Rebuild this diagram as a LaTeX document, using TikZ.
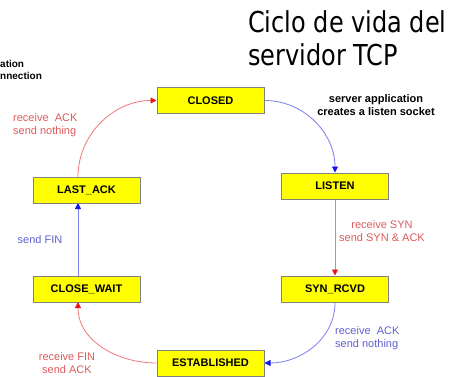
\documentclass[tikz,border=0pt]{standalone}
\usepackage{graphicx}
\usepackage{fontspec}
\setmainfont{Liberation Sans}
\newfontfamily\titlefont{DejaVu Sans}
\usetikzlibrary{arrows.meta,positioning,backgrounds}
\pgfdeclarelayer{edgelayer}
\pgfdeclarelayer{nodelayer}
\pgfsetlayers{background,edgelayer,nodelayer,main}
\definecolor{boxyellow}{RGB}{255,255,0}
\definecolor{boxgray}{RGB}{128,128,128}
\definecolor{lnblue}{RGB}{125,125,235}
\definecolor{tipblue}{RGB}{20,20,230}
\definecolor{lnred}{RGB}{240,120,120}
\definecolor{tipred}{RGB}{230,20,20}
\definecolor{txtred}{RGB}{220,90,90}
\definecolor{txtblue}{RGB}{95,95,205}
\newcommand{\tall}[1]{\scalebox{1}[1.2]{#1}}
\tikzstyle{none}=[inner sep=0mm]
\tikzstyle{state}=[draw=boxgray,fill=boxyellow,line width=1pt,minimum width=107pt,minimum height=26pt,inner sep=0pt,font=\fontsize{11}{13}\selectfont\bfseries]
\tikzstyle{lbl}=[inner sep=0pt,font=\fontsize{11}{13}\selectfont]
\tikzstyle{redlbl}=[lbl,text=txtred]
\tikzstyle{bluelbl}=[lbl,text=txtblue]
\tikzstyle{boldlbl}=[inner sep=0pt,font=\fontsize{11}{13}\selectfont\bfseries]
\tikzstyle{bluearc}=[draw=lnblue,line width=0.8pt,-{Triangle[width=6pt,length=6pt,color=tipblue]}]
\tikzstyle{redarc}=[draw=lnred,line width=0.8pt,-{Triangle[width=6pt,length=6pt,color=tipred]}]
\tikzset{
	title/.style={inner sep=0pt,align=left,font=\titlefont\fontsize{24}{33}\selectfont}
}

\begin{document}
\begin{tikzpicture}[x=1pt,y=1pt]
	\useasboundingbox (0,0) rectangle (453,376);
	\begin{pgfonlayer}{nodelayer}
		\node [style=state] (closed) at (210.5, 275.5) {CLOSED};
		\node [style=state] (listen) at (335, 190) {LISTEN};
		\node [style=state] (synrcvd) at (335, 87) {SYN\_RCVD};
		\node [style=state] (estab) at (210.5, 13) {ESTABLISHED};
		\node [style=state] (closewait) at (86.5, 87) {CLOSE\_WAIT};
		\node [style=state] (lastack) at (86.5, 186) {LAST\_ACK};
		\node [style=none] (cw_bot) at (78, 74) {};
		\node [style=none] (cw_top) at (78, 100) {};
		\node [style=none] (la_bot) at (78, 173) {};
		\node [style=none] (la_top) at (78, 199) {};
		% labels
		\node [style=boldlbl, align=center] (srvapp) at (376, 271) {server application\\creates a listen socket};
		\node [style=redlbl, align=center] (synlbl) at (382, 145) {receive SYN\\send SYN \& ACK};
		\node [style=bluelbl, align=left, anchor=west] (acklbl) at (335, 38) {receive\ \ ACK\\send nothing};
		\node [style=redlbl, align=center] (finlbl) at (67, 13) {receive FIN\\send ACK};
		\node [style=bluelbl] (sendfin) at (40, 136) {send FIN};
		\node [style=redlbl, align=left, anchor=west] (lastlbl) at (13, 251) {receive\ \ ACK\\send nothing};
		\node [style=boldlbl, align=left, anchor=west, font=\fontsize{10}{12}\selectfont\bfseries] (cutlbl) at (0, 306) {ation\\nnection};
		\node [style=title, anchor=north west] (title) at (248, 366) {\tall{Ciclo de vida del}\\\tall{servidor TCP}};
	\end{pgfonlayer}
	\begin{pgfonlayer}{edgelayer}
		\draw [style=bluearc, out=0, in=90] (closed.east) to (listen.north);
		\draw [style=redarc] (listen.south) to (synrcvd.north);
		\draw [style=bluearc, out=-90, in=0] (synrcvd.south) to (estab.east);
		\draw [style=redarc, out=180, in=-90] (estab.west) to (cw_bot.center);
		\draw [style=bluearc] (cw_top.center) to (la_bot.center);
		\draw [style=redarc, out=90, in=180] (la_top.center) to (closed.west);
	\end{pgfonlayer}
\end{tikzpicture}
\end{document}
